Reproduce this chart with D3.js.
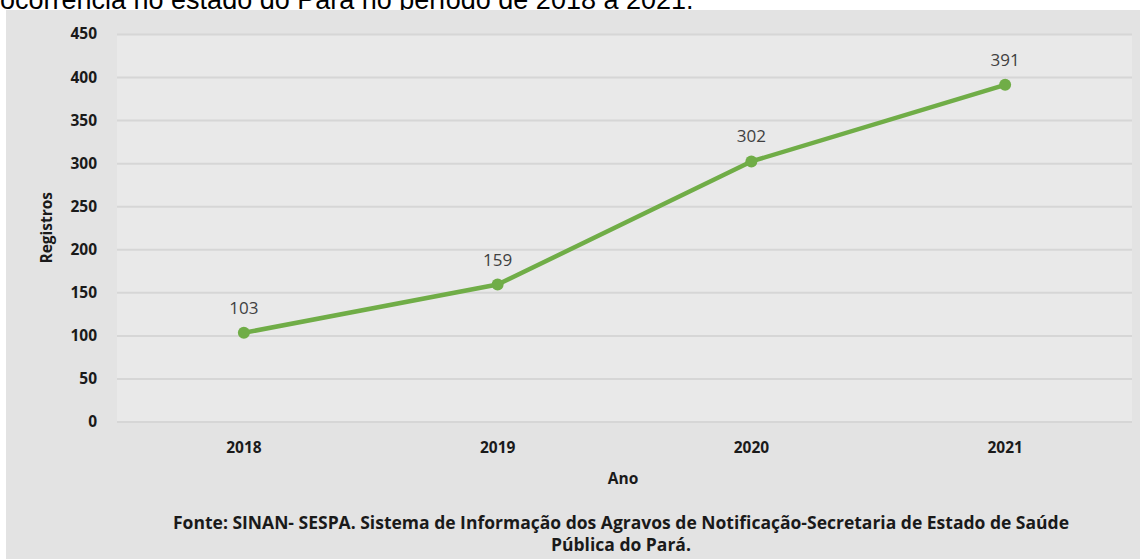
<!DOCTYPE html>
<html>
<head>
<meta charset="utf-8">
<script src="https://cdn.jsdelivr.net/npm/d3@7"></script>
<style>
  body { margin: 0; background: #fff; }
  svg { display: block; }
</style>
</head>
<body>
<svg id="chart"></svg>
<script>
const years = ["2018", "2019", "2020", "2021"];
const registros = [103, 159, 302, 391];
const yTicks = [0, 50, 100, 150, 200, 250, 300, 350, 400, 450];
const footer = [
  "Fonte: SINAN- SESPA. Sistema de Informação dos Agravos de Notificação-Secretaria de Estado de Saúde",
  "Pública do Pará."
];
const caption = "ocorrência no estado do Pará no período de 2018 a 2021.";

const width = 1140;
const height = 559;
const plot = { left: 117, right: 1132, top: 34, bottom: 421.5 };
const font = "'Open Sans', sans-serif";
const labelSize = 15.5;

const svg = d3.select("#chart").attr("width", width).attr("height", height);

// caption cut at top
svg.append("text")
  .attr("x", 0)
  .attr("y", 9)
  .attr("font-family", "'Liberation Sans', Arial, sans-serif")
  .attr("font-size", 27)
  .attr("fill", "#000")
  .text(caption);

// outer panel
svg.append("rect")
  .attr("x", 6).attr("y", 10)
  .attr("width", width - 6).attr("height", height - 10)
  .attr("fill", "#e3e3e3");

// plot area
svg.append("rect")
  .attr("x", plot.left).attr("y", plot.top)
  .attr("width", plot.right - plot.left).attr("height", plot.bottom - plot.top)
  .attr("fill", "#e9e9e9");

const x = d3.scaleBand().domain(years).range([plot.left, plot.right]);
const y = d3.scaleLinear().domain([0, 450]).range([plot.bottom, plot.top]);

// gridlines + y labels
const yAxis = svg.append("g")
  .attr("transform", `translate(${plot.left},0)`)
  .call(d3.axisLeft(y).tickValues(yTicks).tickSize(-(plot.right - plot.left)).tickPadding(20));
yAxis.select(".domain").remove();
yAxis.selectAll(".tick line").attr("stroke", "#d6d6d6").attr("stroke-width", 2);
yAxis.selectAll(".tick text")
  .attr("font-family", font)
  .attr("font-size", labelSize)
  .attr("font-weight", "bold")
  .attr("fill", "#1a1a1a");

// x labels
const xAxis = svg.append("g")
  .attr("transform", `translate(0,${plot.bottom})`)
  .call(d3.axisBottom(x).tickSize(0).tickPadding(20));
xAxis.select(".domain").remove();
xAxis.selectAll(".tick text")
  .attr("font-family", font)
  .attr("font-size", labelSize)
  .attr("font-weight", "bold")
  .attr("fill", "#1a1a1a");

// axis titles
svg.append("text")
  .attr("x", 623).attr("y", 484)
  .attr("text-anchor", "middle")
  .attr("font-family", font).attr("font-size", labelSize).attr("font-weight", "bold")
  .attr("fill", "#1a1a1a")
  .text("Ano");

svg.append("text")
  .attr("transform", `translate(52,${(plot.top + plot.bottom) / 2}) rotate(-90)`)
  .attr("text-anchor", "middle")
  .attr("font-family", font).attr("font-size", labelSize).attr("font-weight", "bold")
  .attr("fill", "#1a1a1a")
  .text("Registros");

// line
const data = years.map((yr, i) => ({ year: yr, value: registros[i] }));
const cx = (d) => x(d.year) + x.bandwidth() / 2;

svg.append("path")
  .datum(data)
  .attr("fill", "none")
  .attr("stroke", "#70ad47")
  .attr("stroke-width", 4.5)
  .attr("stroke-linejoin", "round")
  .attr("d", d3.line().x(cx).y((d) => y(d.value)));

svg.selectAll(".dot")
  .data(data)
  .join("circle")
  .attr("class", "dot")
  .attr("cx", cx)
  .attr("cy", (d) => y(d.value))
  .attr("r", 6)
  .attr("fill", "#70ad47");

svg.selectAll(".lbl")
  .data(data)
  .join("text")
  .attr("class", "lbl")
  .attr("x", cx)
  .attr("y", (d) => y(d.value) - 19)
  .attr("text-anchor", "middle")
  .attr("font-family", font)
  .attr("font-size", 17)
  .attr("fill", "#404040")
  .text((d) => d.value);

// footer
svg.selectAll(".foot")
  .data(footer)
  .join("text")
  .attr("class", "foot")
  .attr("x", 621)
  .attr("y", (d, i) => 529 + i * 22)
  .attr("text-anchor", "middle")
  .attr("font-family", font).attr("font-size", 17.5).attr("font-weight", "bold")
  .attr("fill", "#1a1a1a")
  .text((d) => d);
</script>
</body>
</html>
